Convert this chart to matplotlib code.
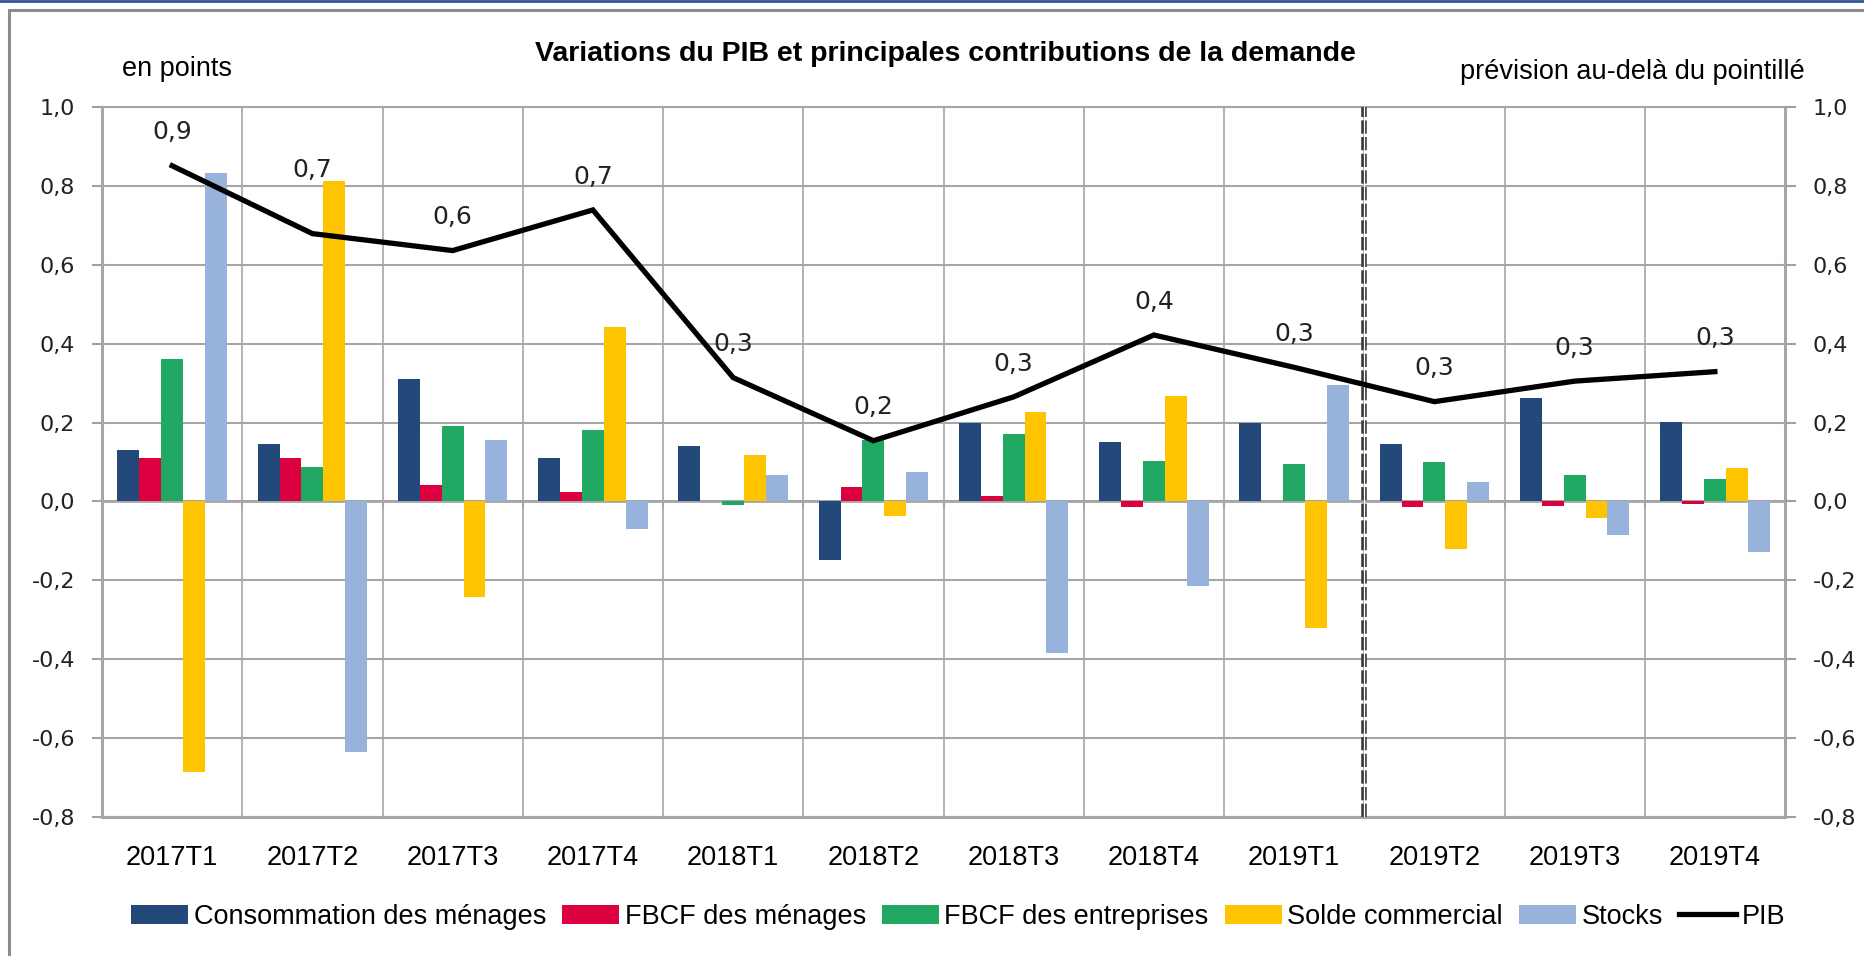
import matplotlib
matplotlib.use("Agg")
import matplotlib.pyplot as plt
from matplotlib.patches import Rectangle
from matplotlib.lines import Line2D
import numpy as np

# --- data --------------------------------------------------------------
quarters = ["2017T1", "2017T2", "2017T3", "2017T4", "2018T1", "2018T2",
            "2018T3", "2018T4", "2019T1", "2019T2", "2019T3", "2019T4"]

conso_menages = [0.13, 0.145, 0.31, 0.11, 0.14, -0.148, 0.199, 0.151, 0.199, 0.145, 0.262, 0.202]
fbcf_menages = [0.109, 0.109, 0.041, 0.024, 0.0, 0.036, 0.015, -0.015, 0.0, -0.015, -0.012, -0.006]
fbcf_entreprises = [0.36, 0.087, 0.19, 0.18, -0.008, 0.157, 0.172, 0.103, 0.094, 0.1, 0.066, 0.057]
solde_commercial = [-0.685, 0.812, -0.242, 0.443, 0.118, -0.036, 0.226, 0.268, -0.32, -0.12, -0.042, 0.084]
stocks = [0.833, -0.636, 0.157, -0.07, 0.066, 0.075, -0.383, -0.214, 0.296, 0.05, -0.085, -0.127]
pib = [0.851, 0.679, 0.636, 0.739, 0.314, 0.154, 0.265, 0.422, 0.34, 0.253, 0.305, 0.329]
pib_labels = ["0,9", "0,7", "0,6", "0,7", "0,3", "0,2", "0,3", "0,4", "0,3", "0,3", "0,3", "0,3"]

series_names = ["Consommation des ménages", "FBCF des ménages", "FBCF des entreprises",
                "Solde commercial", "Stocks"]
series_colors = ["#23487A", "#DC0040", "#21A862", "#FFC400", "#98B3DB"]

forecast_after = 8  # index of last observed quarter (2019T1)

# Calibri-like text -> Liberation Sans, Verdana-like numbers -> DejaVu Sans
narrow = "Liberation Sans"
wide = "DejaVu Sans"


def fr(v):
    return f"{v + 0.0:.1f}".replace(".", ",")


W, H = 1864, 956
fig = plt.figure(figsize=(W / 100, H / 100), dpi=100)

# outer frame (only its top and left edges fall inside the picture)
fig.patches.append(Rectangle((9 / W, -0.05), 1.2, 1.05 - 10 / H, transform=fig.transFigure,
                             fill=False, edgecolor="#8C8C8C", linewidth=2.2))
fig.lines.append(Line2D([0, 1], [1 - 1 / H, 1 - 1 / H], transform=fig.transFigure,
                        color="#2F5597", linewidth=2))

ax = fig.add_axes([102 / W, 1 - 817 / H, (1785 - 102) / W, (817 - 107) / H])

x = np.arange(len(quarters))
bar_w = 0.156
all_series = [conso_menages, fbcf_menages, fbcf_entreprises, solde_commercial, stocks]
for k, (vals, name, col) in enumerate(zip(all_series, series_names, series_colors)):
    ax.bar(x + (k - 2) * bar_w, vals, width=bar_w, color=col, label=name, zorder=3)

ax.plot(x, pib, color="black", linewidth=3.8, label="PIB", zorder=5, solid_joinstyle="miter")

# data labels on the PIB line
for i, (v, lab) in enumerate(zip(pib, pib_labels)):
    dy = 46 if i == 1 else 24
    ax.annotate(lab, (x[i], v), xytext=(0, dy), textcoords="offset points",
                ha="center", va="center", fontsize=18, family=wide, color="#222222", zorder=6)

ax.set_xlim(-0.5, len(quarters) - 0.5)
ax.set_ylim(-0.8, 1.0)
yticks = np.round(np.arange(-0.8, 1.01, 0.2), 1)
ax.set_yticks(yticks)
ax.set_yticklabels([fr(t) for t in yticks], family=wide, fontsize=16, color="#222222")
ax.set_xticks(x)
ax.set_xticklabels(quarters, family=narrow, fontsize=19.5)
ax.tick_params(axis="x", length=0, pad=20)
ax.tick_params(axis="y", length=7.5, width=1.5, color="#A0A0A0", pad=12, direction="out")

grid_col = "#A6A6A6"
ax.grid(axis="y", color=grid_col, linewidth=1.5, zorder=1)
for b in x[:-1] + 0.5:
    ax.axvline(b, color=grid_col, linewidth=1.2, zorder=1)
# category axis crossing at zero with its small ticks
ax.axhline(0, color=grid_col, linewidth=2, zorder=2)
ax.vlines(x[:-1] + 0.5, -0.02, 0, color=grid_col, linewidth=1.5, zorder=2)

for side in ["left", "right", "bottom", "top"]:
    ax.spines[side].set_color(grid_col)
    ax.spines[side].set_linewidth(2.2 if side in ("left", "right", "bottom") else 1.5)

# forecast separator: double dashed line
ax.axvline(forecast_after + 0.5, color="#3A3A3A", linewidth=4, linestyle=(0, (2.4, 0.6)), zorder=4)
ax.axvline(forecast_after + 0.5, color="white", linewidth=0.9, zorder=4)

# right-hand axis with the same scale
ax2 = ax.twinx()
ax2.set_ylim(ax.get_ylim())
ax2.set_yticks(yticks)
ax2.set_yticklabels([fr(t) for t in yticks], family=wide, fontsize=16, color="#222222")
ax2.tick_params(axis="y", length=8, width=1.5, color="#A0A0A0", pad=12)
for side in ["left", "right", "bottom", "top"]:
    ax2.spines[side].set_visible(False)

fig.text(945 / W, 1 - 54 / H, "Variations du PIB et principales contributions de la demande",
         ha="center", va="center", fontsize=20.5, fontweight="bold", family=narrow)
fig.text(122 / W, 1 - 69 / H, "en points", ha="left", va="center", fontsize=19.5, family=narrow)
fig.text(1805 / W, 1 - 72 / H, "prévision au-delà du pointillé", ha="right", va="center",
         fontsize=19.5, family=narrow)

handles, labels = ax.get_legend_handles_labels()
order = [labels.index(n) for n in series_names + ["PIB"]]
fig.legend([handles[i] for i in order], [labels[i] for i in order], loc="center",
           bbox_to_anchor=(0.514, 1 - 917 / H), ncol=6, frameon=False,
           prop={"family": narrow, "size": 19.5}, handlelength=2.1, handleheight=0.75,
           handletextpad=0.2, columnspacing=0.6)

fig.savefig("out.png", dpi=100, facecolor="white")
